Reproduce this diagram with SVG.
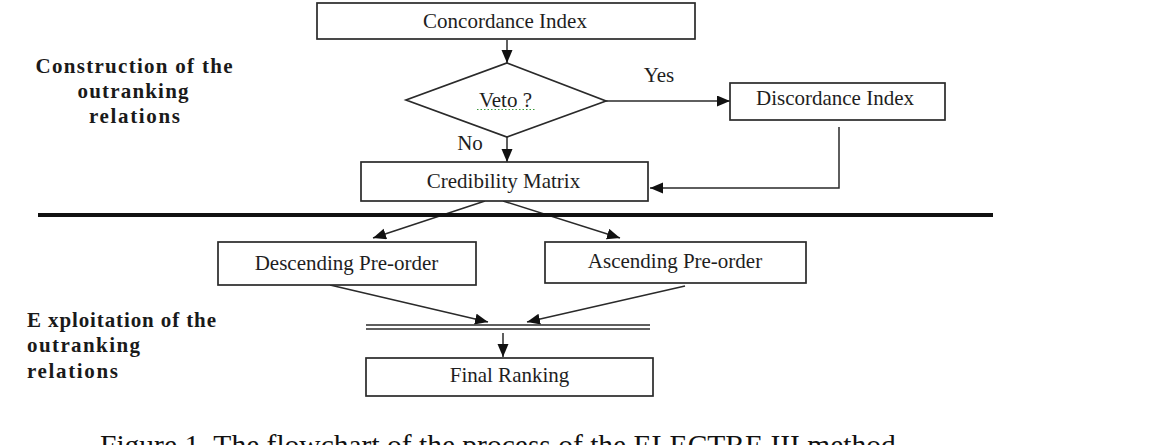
<svg xmlns="http://www.w3.org/2000/svg" width="1153" height="445" viewBox="0 0 1153 445">
<style>
.box{fill:#fff;stroke:#2a2a2a;stroke-width:1.7}
.t{font-family:"Liberation Serif","Times New Roman",serif;font-size:21px;fill:#1e1e1e;text-anchor:middle}
.lbl{font-family:"Liberation Serif","Times New Roman",serif;font-size:21px;font-weight:bold;fill:#1a1a1a}
.c{stroke:#2a2a2a;stroke-width:1.5;fill:none}
.ca{stroke:#2a2a2a;stroke-width:1.5;fill:none;marker-end:url(#ah)}
</style>
<defs>
<marker id="ah" markerUnits="userSpaceOnUse" markerWidth="14" markerHeight="12" refX="13" refY="5.5" orient="auto">
<path d="M0,0 L13,5.5 L0,11 z" fill="#111"/>
</marker>
</defs>
<rect width="1153" height="445" fill="#fff"/>

<g id="label-construction">
<text class="lbl" x="134" y="73" text-anchor="middle" textLength="197" lengthAdjust="spacing">Construction of the</text>
<text class="lbl" x="133" y="98" text-anchor="middle" textLength="111" lengthAdjust="spacing">outranking</text>
<text class="lbl" x="134.5" y="123" text-anchor="middle" textLength="91" lengthAdjust="spacing">relations</text>
</g>
<g id="label-exploitation">
<text class="lbl" x="27" y="327" textLength="189" lengthAdjust="spacing">E xploitation of the</text>
<text class="lbl" x="27" y="352" textLength="113" lengthAdjust="spacing">outranking</text>
<text class="lbl" x="27" y="378" textLength="91" lengthAdjust="spacing">relations</text>
</g>

<g id="connectors">
<line class="ca" x1="507" y1="40" x2="507" y2="63"/>
<line class="ca" x1="606" y1="101" x2="730" y2="101"/>
<polyline class="ca" points="839,127 839,188 650,188"/>
<line class="ca" x1="507" y1="137" x2="507" y2="162"/>
<line class="ca" x1="485" y1="201" x2="373" y2="238"/>
<line class="ca" x1="503" y1="201" x2="620" y2="238"/>
<line class="ca" x1="330" y1="285" x2="488" y2="322"/>
<line class="ca" x1="685" y1="286" x2="527" y2="322"/>
<line class="ca" x1="503" y1="333" x2="503" y2="357"/>
<text class="t" x="659" y="82">Yes</text>
<text class="t" x="470" y="150">No</text>
</g>

<g id="separator">
<line x1="38" y1="215" x2="993" y2="215" stroke="#111" stroke-width="4"/>
</g>

<g id="node-concordance">
<rect class="box" x="317" y="3" width="378" height="36"/>
<text class="t" x="505" y="28">Concordance Index</text>
</g>
<g id="node-veto">
<polygon class="box" points="507,63 606,101 507,137 406,100"/>
<text class="t" x="505.5" y="107">Veto ?</text>
<line x1="477" y1="109.5" x2="535" y2="109.5" stroke="#3a9a3a" stroke-width="1" stroke-dasharray="1.5,2"/>
</g>
<g id="node-discordance">
<rect class="box" x="730" y="83" width="215" height="37"/>
<text class="t" x="835" y="105">Discordance Index</text>
</g>
<g id="node-credibility">
<rect class="box" x="361" y="162" width="287" height="39"/>
<text class="t" x="503.5" y="188">Credibility Matrix</text>
</g>
<g id="node-descending">
<rect class="box" x="218" y="242" width="258" height="43"/>
<text class="t" x="346.5" y="270">Descending Pre-order</text>
</g>
<g id="node-ascending">
<rect class="box" x="545" y="242" width="261" height="41"/>
<text class="t" x="675" y="268">Ascending Pre-order</text>
</g>
<g id="node-merge">
<line x1="366" y1="325" x2="650" y2="325" stroke="#2a2a2a" stroke-width="1.5"/>
<line x1="366" y1="329" x2="650" y2="329" stroke="#2a2a2a" stroke-width="1.5"/>
</g>
<g id="node-final">
<rect class="box" x="366" y="358" width="287" height="38"/>
<text class="t" x="509.5" y="382">Final Ranking</text>
</g>

<text x="100" y="455" font-family="Liberation Serif, Times New Roman, serif" font-size="29.5" fill="#111">Figure 1. The flowchart of the process of the ELECTRE III method</text>
</svg>
